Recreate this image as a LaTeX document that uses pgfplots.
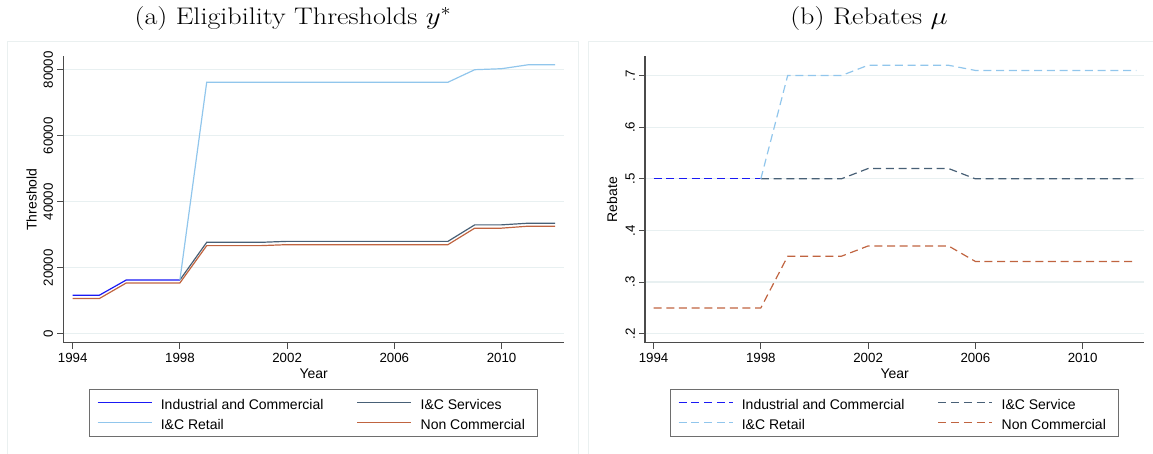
\documentclass[border=0pt]{standalone}
\usepackage{pgfplots}
\pgfplotsset{compat=1.18}
\usepackage{fontspec}
\newfontfamily\arial{Liberation Sans}
\definecolor{icblue}{RGB}{25,25,245}
\definecolor{ltblue}{RGB}{145,198,236}
\definecolor{slate}{RGB}{72,96,118}
\definecolor{rust}{RGB}{192,100,64}
\definecolor{gridc}{RGB}{232,240,241}
\definecolor{axc}{RGB}{75,75,75}
\definecolor{panelc}{RGB}{234,240,240}
\definecolor{legc}{RGB}{110,110,110}

\pgfplotsset{
 mystyle/.style={
  scale only axis, height=286.2bp,
  axis x line*=bottom, axis y line*=left,
  axis line style={axc, line width=1.1bp, -},
  tick align=outside, major tick length=6bp,
  tick style={axc, line width=1bp},
  ymajorgrids, grid style={gridc, line width=1.2bp},
  xtick={1994,1998,2002,2006,2010},
  xticklabels={1994,1998,2002,2006,2010},
  scaled y ticks=false, scaled x ticks=false,
  /pgf/number format/assume math mode=true,
  tick label style={font=\arial\fontsize{13.3bp}{16bp}\selectfont, text=black},
  yticklabel style={rotate=90, anchor=south, inner sep=4bp},
  xticklabel style={anchor=north, inner sep=4bp},
  every axis x label/.style={at={(axis description cs:0.5,-0.1094)}, anchor=center,
    font=\arial\fontsize{14bp}{17bp}\selectfont},
  legend columns=2,
  legend cell align=left,
  legend style={at={(0.5,-0.1628)}, anchor=north, draw=none,
    fill=white, inner xsep=7.4bp, inner ysep=6.85bp,
    font=\arial\fontsize{14bp}{17bp}\selectfont,
    nodes={inner sep=0pt, text height=13bp, text depth=0bp},
    row sep=7bp,
    /tikz/every odd column/.style={column sep=8.6bp}},
  legend image code/.code={\draw[#1] (0bp,0bp) -- (54bp,0bp);},
 }
}

\pgfplotstableread{
year val
1994 11700
1995 11700
1996 16300
1997 16300
1998 16300
}\thrIC
\pgfplotstableread{
year val
1998 16300
1999 27700
2000 27700
2001 27700
2002 28000
2003 28000
2004 28000
2005 28000
2006 28000
2007 28000
2008 28000
2009 33000
2010 33000
2011 33500
2012 33500
}\thrServ
\pgfplotstableread{
year val
1998 16300
1999 76200
2000 76200
2001 76200
2002 76200
2003 76200
2004 76200
2005 76200
2006 76200
2007 76200
2008 76200
2009 80000
2010 80300
2011 81500
2012 81500
}\thrRet
\pgfplotstableread{
year val
1994 10700
1995 10700
1996 15400
1997 15400
1998 15400
1999 26700
2000 26700
2001 26700
2002 27000
2003 27000
2004 27000
2005 27000
2006 27000
2007 27000
2008 27000
2009 32000
2010 32000
2011 32600
2012 32600
}\thrNon

\pgfplotstableread{
year val
1994 0.50
1995 0.50
1996 0.50
1997 0.50
1998 0.50
}\rebIC
\pgfplotstableread{
year val
1998 0.50
1999 0.50
2000 0.50
2001 0.50
2002 0.52
2003 0.52
2004 0.52
2005 0.52
2006 0.50
2007 0.50
2008 0.50
2009 0.50
2010 0.50
2011 0.50
2012 0.50
}\rebServ
\pgfplotstableread{
year val
1998 0.50
1999 0.70
2000 0.70
2001 0.70
2002 0.72
2003 0.72
2004 0.72
2005 0.72
2006 0.71
2007 0.71
2008 0.71
2009 0.71
2010 0.71
2011 0.71
2012 0.71
}\rebRet
\pgfplotstableread{
year val
1994 0.25
1995 0.25
1996 0.25
1997 0.25
1998 0.25
1999 0.35
2000 0.35
2001 0.35
2002 0.37
2003 0.37
2004 0.37
2005 0.37
2006 0.34
2007 0.34
2008 0.34
2009 0.34
2010 0.34
2011 0.34
2012 0.34
}\rebNon

\begin{document}
\begin{tikzpicture}
\path[use as bounding box] (0,0) rectangle (1153bp,454bp);
\draw[panelc, line width=1bp] (7.3bp,412.3bp) rectangle (578.7bp,-10bp);
\draw[panelc, line width=1bp] (588.3bp,412.3bp) rectangle (1165bp,-10bp);
\node[anchor=base, xscale=1.17, font=\fontsize{24bp}{28bp}\selectfont] at (293bp,429bp) {(a) Eligibility Thresholds $y^*$};
\node[anchor=base, xscale=1.17, font=\fontsize{24bp}{28bp}\selectfont] at (869bp,429bp) {(b) Rebates $\mu$};

\begin{axis}[mystyle, at={(63.3bp,111.3bp)}, anchor=south west,
  width=500.7bp,
  xmin=1993.65, xmax=2012.33, ymin=-2700, ymax=84000,
  ytick={0,20000,40000,60000,80000},
  yticklabels={0,20000,40000,60000,80000},
  xlabel={Year}, ylabel={Threshold},
  every axis y label/.style={at={(axis description cs:-0.0635,0.5)}, rotate=90, anchor=center,
    font=\arial\fontsize{14bp}{17bp}\selectfont},
  legend style={name=legA},
]
\addplot[draw=icblue, line width=1.2bp] table[x=year,y=val] {\thrIC};
\addlegendentry{\makebox[196bp][l]{Industrial and Commercial}}
\addplot[draw=slate, line width=1.2bp] table[x=year,y=val] {\thrServ};
\addlegendentry{\makebox[109.6bp][l]{I\&C Services}}
\addplot[draw=ltblue, line width=1.2bp] table[x=year,y=val] {\thrRet};
\addlegendentry{\makebox[196bp][l]{I\&C Retail}}
\addplot[draw=rust, line width=1.2bp] table[x=year,y=val] {\thrNon};
\addlegendentry{\makebox[109.6bp][l]{Non Commercial}}
\end{axis}
\draw[legc, line width=1.1bp] (legA.south west) rectangle (legA.north east);

\begin{axis}[mystyle, at={(645bp,111.3bp)}, anchor=south west,
  width=499.3bp,
  xmin=1993.68, xmax=2012.3, ymin=0.1826, ymax=0.737,
  ytick={0.2,0.3,0.4,0.5,0.6,0.7},
  yticklabels={.2,.3,.4,.5,.6,.7},
  xlabel={Year}, ylabel={Rebate},
  every axis y label/.style={at={(axis description cs:-0.0661,0.5)}, rotate=90, anchor=center,
    font=\arial\fontsize{14bp}{17bp}\selectfont},
  legend style={name=legB},
]
\addplot[draw=icblue, line width=1.2bp, dash pattern=on 8bp off 4.7bp] table[x=year,y=val] {\rebIC};
\addlegendentry{\makebox[196bp][l]{Industrial and Commercial}}
\addplot[draw=slate, line width=1.2bp, dash pattern=on 8bp off 4.7bp] table[x=year,y=val] {\rebServ};
\addlegendentry{\makebox[109.6bp][l]{I\&C Service}}
\addplot[draw=ltblue, line width=1.2bp, dash pattern=on 8bp off 4.7bp] table[x=year,y=val] {\rebRet};
\addlegendentry{\makebox[196bp][l]{I\&C Retail}}
\addplot[draw=rust, line width=1.2bp, dash pattern=on 8bp off 4.7bp] table[x=year,y=val] {\rebNon};
\addlegendentry{\makebox[109.6bp][l]{Non Commercial}}
\end{axis}
\draw[legc, line width=1.1bp] (legB.south west) rectangle (legB.north east);
\end{tikzpicture}
\end{document}
